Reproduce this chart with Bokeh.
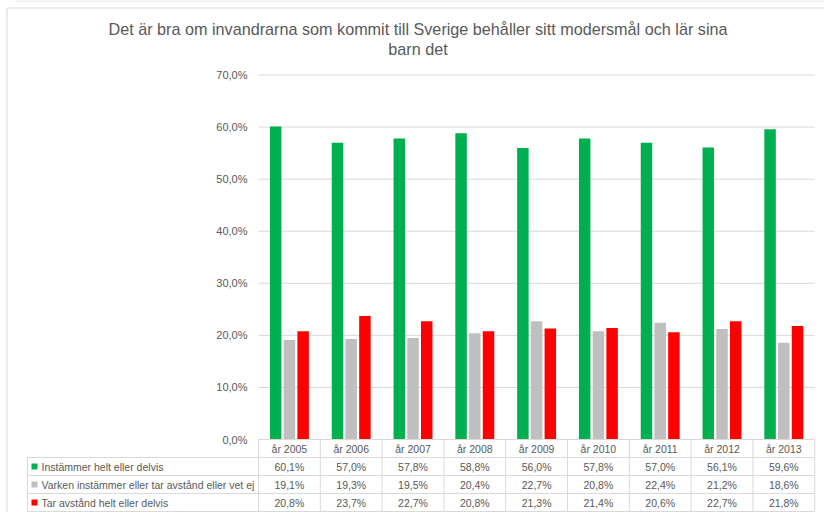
from bokeh.plotting import figure
from bokeh.models import ColumnDataSource, Range1d, Span
from bokeh.core.properties import value
from bokeh.transform import dodge
from bokeh.embed import file_html
from bokeh.resources import INLINE

# ---------------- data ----------------
title_lines = ["Det är bra om invandrarna som kommit till Sverige behåller sitt modersmål och lär sina",
               "barn det"]
categories = ["år 2005", "år 2006", "år 2007", "år 2008", "år 2009",
              "år 2010", "år 2011", "år 2012", "år 2013"]
series_names = ["Instämmer helt eller delvis",
                "Varken instämmer eller tar avstånd eller vet ej",
                "Tar avstånd helt eller delvis"]
instammer = [60.1, 57.0, 57.8, 58.8, 56.0, 57.8, 57.0, 56.1, 59.6]
varken = [19.1, 19.3, 19.5, 20.4, 22.7, 20.8, 22.4, 21.2, 18.6]
tar_avstand = [20.8, 23.7, 22.7, 20.8, 21.3, 21.4, 20.6, 22.7, 21.8]
y_ticks = [0, 10, 20, 30, 40, 50, 60, 70]
y_tick_labels = ["0,0%", "10,0%", "20,0%", "30,0%", "40,0%", "50,0%", "60,0%", "70,0%"]

# ---------------- style / layout ----------------
colors = ["#00b050", "#bfbfbf", "#ff0000"]
text_col = "#595959"
line_col = "#d9d9d9"
FONT = value("Liberation Sans")

W, H = 824, 512
cat_px = 61.8      # pixel width of one category
x0_px = 258        # first category's left edge from figure left
y0_px = 439        # 0% baseline from figure top
unit_px = 5.207    # pixels per percentage point

x_start = -0.5 - x0_px / cat_px
x_end = x_start + W / cat_px
y_end = y0_px / unit_px
y_start = y_end - H / unit_px
n = len(categories)
x_lo, x_hi = -0.5, n - 0.5
row_h = 18.0 / unit_px
table_left = -0.5 - 231 / cat_px

def px_x(px):
    return x_start + px / cat_px

def px_y(px):
    return y_end - px / unit_px

p = figure(width=W, height=H, x_range=Range1d(x_start, x_end), y_range=Range1d(y_start, y_end),
           output_backend="svg", toolbar_location=None, min_border=0,
           x_axis_location=None, y_axis_location=None)
p.grid.visible = False
p.outline_line_color = None
p.background_fill_color = "white"
p.border_fill_color = "white"

# chart border (left and top) and sheet line above
p.segment(x0=[px_x(6.5), px_x(6.5), px_x(15)], x1=[px_x(6.5), x_end, x_end],
          y0=[px_y(7.5), px_y(7.5), px_y(0.5)], y1=[y_start, px_y(7.5), px_y(0.5)],
          line_color=line_col, line_width=1)

# gridlines
p.segment(x0=[x_lo] * len(y_ticks), x1=[x_hi] * len(y_ticks), y0=y_ticks, y1=y_ticks,
          line_color=line_col, line_width=1)

# y tick labels
p.text(x=[-0.5 - 11 / cat_px] * len(y_ticks), y=y_ticks, text=y_tick_labels,
       text_align="right", text_baseline="middle", text_font=FONT,
       text_font_size="11px", text_color=text_col)

# bars
src = ColumnDataSource(dict(x=list(range(n)), a=instammer, b=varken, c=tar_avstand))
offsets = [-0.222, 0.0, 0.222]
for col, off, c in zip(["a", "b", "c"], offsets, colors):
    p.vbar(x=dodge("x", off, range=p.x_range), top=col, bottom=0, width=0.186,
           source=src, fill_color=c, line_color=None)

# data table lines
hx0, hx1, hy = [], [], []
hx0.append(x_lo); hx1.append(x_hi); hy.append(0)
for k in range(1, 5):
    hx0.append(table_left); hx1.append(x_hi); hy.append(-k * row_h)
p.segment(x0=hx0, x1=hx1, y0=hy, y1=hy, line_color=line_col, line_width=1)
vx = [x_lo + k for k in range(n + 1)] + [table_left]
vy0 = [0] * (n + 1) + [-row_h]
vy1 = [-4 * row_h] * (n + 2)
p.segment(x0=vx, x1=vx, y0=vy0, y1=vy1, line_color=line_col, line_width=1)

# header row
p.text(x=list(range(n)), y=[-0.5 * row_h] * n, text=categories,
       text_align="center", text_baseline="middle", text_font=FONT,
       text_font_size="10.5px", text_color=text_col)

# value rows
def fmt(v):
    return f"{v:.1f}".replace(".", ",") + "%"

for r, vals in enumerate([instammer, varken, tar_avstand]):
    yc = -(r + 1.5) * row_h
    p.text(x=list(range(n)), y=[yc] * n, text=[fmt(v) for v in vals],
           text_align="center", text_baseline="middle", text_font=FONT,
           text_font_size="10.5px", text_color=text_col)

row_centers = [-(r + 1.5) * row_h for r in range(3)]
p.scatter(x=[table_left + 7 / cat_px] * 3, y=row_centers, marker="square", size=6,
          fill_color=colors, line_color=None)
p.text(x=[table_left + 14 / cat_px] * 3, y=row_centers, text=series_names,
       text_align="left", text_baseline="middle", text_font=FONT,
       text_font_size="10.5px", text_color=text_col)

# title
p.text(x=[px_x(417.5)] * 2, y=[px_y(28), px_y(48)],
       text=title_lines, text_align="center", text_baseline="middle", text_font=FONT,
       text_font_size="16.2px", text_color=text_col)

open("out.html", "w").write(file_html(p, INLINE))
